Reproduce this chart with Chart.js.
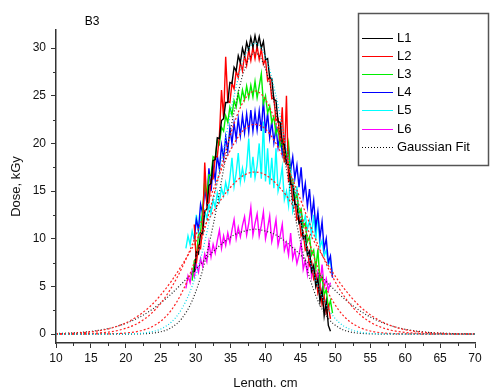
<!DOCTYPE html>
<html>
<head>
<meta charset="utf-8">
<script src="https://cdn.jsdelivr.net/npm/chart.js@4.4.1/dist/chart.umd.min.js"></script>
<style>
  html, body { margin: 0; padding: 0; background: #fff; }
  #wrap { width: 490px; height: 387px; }
</style>
</head>
<body>
<div id="wrap"><canvas id="doseChart" width="490" height="387"></canvas></div>
<script>
// measured positions along the sample, cm
const lengths = [28.6, 28.9, 29.2, 29.5, 29.8, 30.1, 30.4, 30.7, 31.0, 31.3, 31.6, 31.9, 32.2, 32.5, 32.8, 33.1, 33.4, 33.7, 34.0, 34.3, 34.6, 34.9, 35.2, 35.5, 35.8, 36.1, 36.4, 36.7, 37.0, 37.3, 37.6, 37.9, 38.2, 38.5, 38.8, 39.1, 39.4, 39.7, 40.0, 40.3, 40.6, 40.9, 41.2, 41.5, 41.8, 42.1, 42.4, 42.7, 43.0, 43.3, 43.6, 43.9, 44.2, 44.5, 44.8, 45.1, 45.4, 45.7, 46.0, 46.3, 46.6, 46.9, 47.2, 47.5, 47.8, 48.1, 48.4, 48.7, 49.0, 49.3, 49.6];

// dose, kGy
const doseL1 = [null, null, null, null, 6.5, 8.6, 8.4, 10.6, 10.5, 12.9, 13.1, 15.6, 15.8, 18.2, 18.3, 20.6, 20.5, 22.4, 22.6, 24.3, 24.3, 26.4, 26.3, 28.0, 27.6, 29.2, 28.5, 30.0, 29.2, 30.6, 29.8, 31.1, 30.1, 31.3, 30.2, 31.2, 30.0, 30.7, 28.8, 28.9, 26.9, 26.8, 24.6, 24.5, 22.3, 22.2, 20.0, 19.9, 17.8, 17.8, 15.7, 15.7, 13.6, 13.6, 11.6, 11.9, 10.0, 10.3, 8.3, 8.7, 6.6, 7.2, 5.0, 5.8, 3.4, 4.6, 1.9, 3.4, 0.9, 0.3, null];
const doseL2 = [null, null, null, null, 11.5, 7.4, 9.3, 9.0, 11.2, 18.0, 13.7, 13.8, 16.2, 16.3, 18.6, 18.6, 20.8, 25.6, 22.7, 29.1, 24.4, 24.3, 26.3, 25.7, 27.6, 26.9, 28.5, 27.6, 29.3, 28.2, 29.8, 28.7, 30.1, 28.9, 30.2, 28.8, 29.9, 28.3, 28.8, 26.6, 27.0, 24.7, 24.8, 22.4, 22.6, 20.2, 23.8, 18.0, 25.0, 16.0, 16.2, 14.0, 14.1, 12.0, 12.3, 10.3, 10.7, 8.8, 9.1, 7.2, 7.6, 5.8, 6.3, 4.3, 5.0, 3.1, 3.9, 2.2, 3.0, 1.6, null];
const doseL3 = [null, null, null, 5.6, 7.7, 8.0, 10.4, 10.7, 13.1, 16.0, 14.4, 16.7, 16.6, 18.6, 18.4, 20.3, 19.9, 21.7, 21.3, 22.9, 22.2, 23.8, 23.0, 24.5, 23.8, 25.3, 24.2, 25.6, 24.6, 26.0, 24.8, 26.1, 24.9, 26.5, 24.8, 26.0, 27.3, 24.2, 25.0, 23.2, 23.9, 22.2, 22.8, 21.0, 21.6, 19.7, 20.3, 18.2, 18.7, 20.0, 15.9, 16.2, 14.2, 14.6, 12.7, 13.1, 11.2, 11.6, 9.7, 10.2, 8.3, 8.8, 6.9, 8.9, 5.4, 6.0, 4.1, 4.7, 2.7, 3.5, 2.2];
const doseL4 = [null, null, null, null, 10.0, 12.0, 11.0, 13.6, 12.6, 15.2, 13.8, 17.4, 15.0, 17.5, 16.2, 18.7, 17.3, 19.8, 18.4, 20.7, 19.2, 21.6, 20.0, 22.1, 20.5, 22.6, 20.8, 22.9, 21.1, 23.1, 21.2, 23.5, 21.3, 23.3, 21.4, 23.4, 21.3, 24.6, 21.1, 23.2, 20.6, 22.3, 20.1, 21.7, 19.6, 21.1, 18.9, 20.4, 18.1, 19.5, 17.2, 18.6, 16.3, 17.7, 15.4, 17.5, 14.4, 15.8, 13.4, 15.2, 12.3, 14.0, 11.2, 12.8, 10.1, 11.8, 8.9, 10.0, 7.5, 8.2, 5.9];
const doseL5 = [9.0, 10.3, 9.4, 10.8, 9.9, 12.5, 10.6, 12.2, 11.5, 12.9, 12.1, 13.6, 12.7, 14.1, 13.3, 14.8, 13.9, 15.3, 14.5, 15.9, 14.9, 16.4, 18.5, 15.5, 16.9, 19.0, 16.0, 17.4, 16.2, 17.6, 20.5, 16.4, 18.6, 16.4, 17.7, 20.0, 16.3, 22.3, 16.0, 19.5, 15.7, 18.5, 15.3, 19.5, 15.0, 16.0, 17.5, 14.1, 15.0, 13.5, 17.4, 12.9, 13.8, 15.5, 12.0, 12.9, 11.5, 12.4, 11.0, 11.9, 10.4, 12.5, 9.8, 12.7, 9.1, 9.8, 8.2, 8.8, 7.3, 7.7, 6.2];
const doseL6 = [4.8, 6.1, 5.4, 6.7, 6.0, 7.3, 6.5, 7.9, 7.1, 8.4, 7.6, 9.6, 8.1, 9.4, 8.5, 9.8, 10.9, 9.0, 10.3, 9.3, 10.6, 9.6, 10.9, 12.0, 10.0, 11.2, 10.2, 11.4, 12.3, 10.4, 11.6, 13.3, 10.4, 11.6, 12.6, 10.3, 11.4, 12.8, 10.0, 11.1, 12.4, 9.7, 10.7, 12.0, 9.3, 10.3, 11.5, 8.8, 9.6, 8.3, 10.6, 7.9, 8.8, 7.4, 8.3, 9.6, 6.8, 7.7, 6.3, 8.8, 6.0, 6.9, 5.6, 6.5, 5.2, 7.3, 4.9, 5.8, 4.6, 5.4, null];

const fitLengths = [10, 11.5, 13, 14.5, 16, 17.5, 19, 20.5, 22, 23.5, 25, 26.5, 28, 29.5, 31, 32.5, 34, 35.5, 37, 38.5, 40, 41.5, 43, 44.5, 46, 47.5, 49, 50.5, 52, 53.5, 55, 56.5, 58, 59.5, 61, 62.5, 64, 65.5, 67, 68.5, 70];
const fitL1 = [0, 0, 0, 0, 0, 0, 0.01, 0.02, 0.07, 0.21, 0.53, 1.24, 2.63, 5.04, 8.75, 13.8, 19.4, 25.0, 29.1, 30.5, 29.1, 25.0, 19.4, 13.8, 8.75, 5.04, 2.63, 1.24, 0.53, 0.21, 0.07, 0.02, 0.01, 0, 0, 0, 0, 0, 0, 0, 0];
const fitL2 = [0, 0, 0, 0, 0, 0, 0, 0, 0.02, 0.08, 0.24, 0.67, 1.62, 3.50, 6.71, 11.4, 17.3, 23.3, 27.8, 29.5, 27.8, 23.3, 17.3, 11.4, 6.71, 3.50, 1.62, 0.67, 0.24, 0.08, 0.02, 0, 0, 0, 0, 0, 0, 0, 0, 0, 0];
const fitL3 = [0, 0, 0, 0, 0.01, 0.02, 0.06, 0.14, 0.32, 0.68, 1.35, 2.50, 4.31, 6.91, 10.3, 14.3, 18.4, 22.1, 24.6, 25.5, 24.6, 22.1, 18.4, 14.3, 10.3, 6.91, 4.31, 2.50, 1.35, 0.68, 0.32, 0.14, 0.06, 0.02, 0.01, 0, 0, 0, 0, 0, 0];
const fitL4 = [0, 0.01, 0.02, 0.05, 0.11, 0.21, 0.40, 0.73, 1.25, 2.06, 3.23, 4.84, 6.89, 9.37, 12.2, 15.1, 17.8, 20.0, 21.5, 22.0, 21.5, 20.0, 17.8, 15.1, 12.2, 9.37, 6.89, 4.84, 3.23, 2.06, 1.25, 0.73, 0.40, 0.21, 0.11, 0.05, 0.02, 0.01, 0, 0, 0];
const fitL5 = [0.03, 0.06, 0.11, 0.19, 0.33, 0.54, 0.87, 1.35, 2.02, 2.92, 4.10, 5.53, 7.19, 9.03, 11.0, 12.8, 14.5, 15.8, 16.7, 17.0, 16.7, 15.8, 14.5, 12.8, 11.0, 9.03, 7.19, 5.53, 4.10, 2.92, 2.02, 1.35, 0.87, 0.54, 0.33, 0.19, 0.11, 0.06, 0.03, 0.01, 0.01];
const fitL6 = [0.05, 0.09, 0.14, 0.24, 0.38, 0.58, 0.87, 1.27, 1.79, 2.45, 3.27, 4.21, 5.28, 6.41, 7.56, 8.66, 9.61, 10.4, 10.8, 11.0, 10.8, 10.4, 9.61, 8.66, 7.56, 6.41, 5.28, 4.21, 3.27, 2.45, 1.79, 1.27, 0.87, 0.58, 0.38, 0.24, 0.14, 0.09, 0.05, 0.03, 0.01];

const seriesNames = ['L1', 'L2', 'L3', 'L4', 'L5', 'L6'];
const xTicks = [10, 15, 20, 25, 30, 35, 40, 45, 50, 55, 60, 65, 70];
const yTicks = [0, 5, 10, 15, 20, 25, 30];
const xMinor = [12.5, 17.5, 22.5, 27.5, 32.5, 37.5, 42.5, 47.5, 52.5, 57.5, 62.5, 67.5];
const yMinor = [2.5, 7.5, 12.5, 17.5, 22.5, 27.5];

const FONT = '"Liberation Sans", Arial, sans-serif';
const dataColors = ['#000000', '#ff0000', '#00ee00', '#0000ff', '#00ffff', '#ff00ff'];
const fitColors = ['#00d8e8', '#222222', '#ff2020', '#ff2020', '#ff2020', '#222222'];

const toPoints = (xs, ys) => xs.map((x, i) => ({ x: x, y: ys[i] }));

const doseSets = [doseL1, doseL2, doseL3, doseL4, doseL5, doseL6];
const fitSets = [fitL1, fitL2, fitL3, fitL4, fitL5, fitL6];

const datasets = [];
doseSets.forEach((d, i) => {
  datasets.push({
    label: seriesNames[i],
    data: toPoints(lengths, d),
    borderColor: dataColors[i],
    borderWidth: 1.4,
    pointRadius: 0,
    spanGaps: false,
    order: 1 + i,
  });
});
fitSets.forEach((f, i) => {
  const red = fitColors[i] === '#ff2020';
  datasets.push({
    label: 'Gaussian Fit',
    data: toPoints(fitLengths, f),
    borderColor: fitColors[i],
    borderWidth: 1.2,
    borderDash: red ? [2, 2] : [1, 2],
    pointRadius: 0,
    cubicInterpolationMode: 'monotone',
    order: 0,
  });
});

// minor ticks, "B3" label and the boxed legend
const extras = {
  id: 'extras',
  afterDraw(chart) {
    const { ctx, scales: { x, y } } = chart;
    ctx.save();
    ctx.strokeStyle = '#333';
    ctx.lineWidth = 1;
    yMinor.forEach(v => {
      const py = Math.round(y.getPixelForValue(v)) + 0.5;
      ctx.beginPath(); ctx.moveTo(x.left - 3, py); ctx.lineTo(x.left, py); ctx.stroke();
    });
    xMinor.forEach(v => {
      const px = Math.round(x.getPixelForValue(v)) + 0.5;
      ctx.beginPath(); ctx.moveTo(px, y.bottom); ctx.lineTo(px, y.bottom + 3); ctx.stroke();
    });

    ctx.fillStyle = '#000';
    ctx.font = '12px ' + FONT;
    ctx.textAlign = 'center';
    ctx.textBaseline = 'middle';
    ctx.fillText('B3', 92, 22);

    // legend box
    ctx.fillStyle = '#fff';
    ctx.fillRect(358, 13, 131, 152);
    ctx.strokeStyle = '#555';
    ctx.lineWidth = 1.5;
    ctx.strokeRect(358.5, 13.5, 130, 152);
    ctx.font = '13px ' + FONT;
    ctx.textAlign = 'left';
    const rows = seriesNames.map((n, i) => ({ text: n, color: dataColors[i], dash: [] }));
    rows.push({ text: 'Gaussian Fit', color: '#000', dash: [1, 2] });
    rows.forEach((r, i) => {
      const ry = Math.round(37.5 + i * 18.2) + 0.5;
      ctx.strokeStyle = r.color;
      ctx.lineWidth = 1;
      ctx.setLineDash(r.dash);
      ctx.beginPath(); ctx.moveTo(362, ry); ctx.lineTo(393, ry); ctx.stroke();
      ctx.setLineDash([]);
      ctx.fillStyle = '#000';
      ctx.fillText(r.text, 397, ry);
    });
    ctx.restore();
  }
};

new Chart(document.getElementById('doseChart'), {
  type: 'line',
  data: { datasets: datasets },
  plugins: [extras],
  options: {
    responsive: false,
    animation: false,
    devicePixelRatio: 1,
    layout: { padding: { left: 0, right: 15, top: 30, bottom: 0 } },
    plugins: { legend: { display: false }, tooltip: { enabled: false } },
    scales: {
      x: {
        type: 'linear',
        min: 10,
        max: 70,
        afterBuildTicks: axis => { axis.ticks = xTicks.map(v => ({ value: v })); },
        afterFit: scale => { scale.height = 44; },
        border: { color: '#333', width: 1.5 },
        grid: { drawOnChartArea: false, drawTicks: true, tickLength: 5, color: '#333', lineWidth: 1 },
        ticks: { color: '#111', font: { family: FONT, size: 12 }, padding: 3, maxRotation: 0 },
        title: { display: true, text: 'Length, cm', color: '#111', font: { family: FONT, size: 13 }, padding: { top: 0, bottom: -4 } },
      },
      y: {
        min: -0.94,
        max: 31.9,
        afterBuildTicks: axis => { axis.ticks = yTicks.map(v => ({ value: v })); },
        afterFit: scale => { scale.width = 56; },
        border: { color: '#333', width: 1.5 },
        grid: { drawOnChartArea: false, drawTicks: true, tickLength: 5, color: '#333', lineWidth: 1 },
        ticks: { color: '#111', font: { family: FONT, size: 12 }, padding: 5 },
        title: { display: true, text: 'Dose, kGy', color: '#111', font: { family: FONT, size: 13 }, padding: { top: 9, bottom: 0 } },
      },
    },
  },
});
</script>
</body>
</html>
